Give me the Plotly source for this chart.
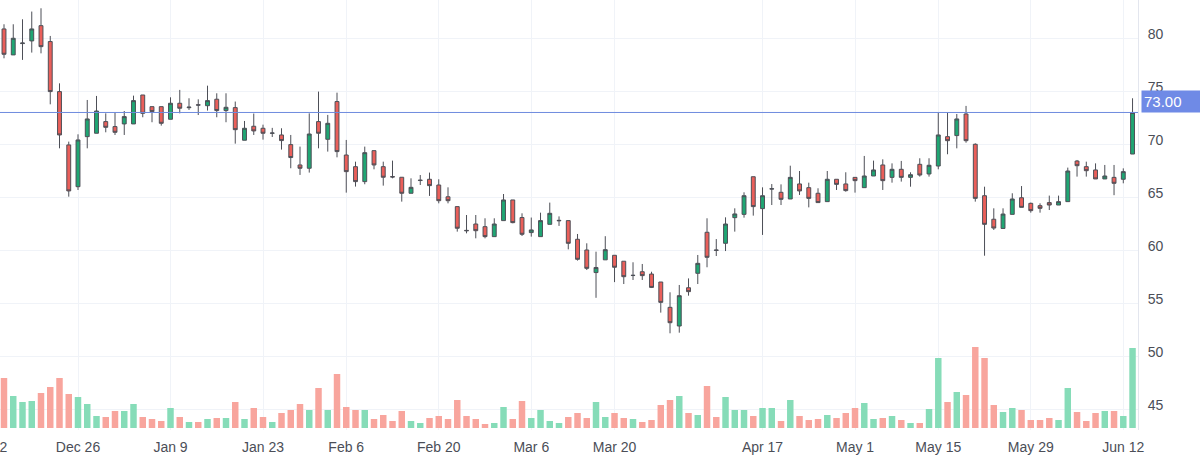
import pandas as pd
import plotly.graph_objects as go

# ---- categories (trading days) ----
closed_days = ["2023-01-24", "2023-03-10", "2023-04-03", "2023-04-04",
               "2023-04-05", "2023-04-07", "2023-05-05"]
dates = [d.strftime("%Y-%m-%d") for d in pd.bdate_range("2022-12-14", "2023-06-13")
         if d.strftime("%Y-%m-%d") not in closed_days]

# ---- OHLC values ----
opens = [80.88, 78.43, 79.50, 79.75, 81.19, 79.69, 74.97, 69.94, 66.00, 70.72,
         71.04, 72.14, 71.67, 71.92, 71.92, 74.65, 73.55, 73.55, 72.36, 73.87,
         73.45, 73.72, 73.64, 74.25, 73.18, 73.46, 70.38, 71.70, 71.51, 71.04,
         70.88, 69.97, 68.05, 67.74, 72.14, 70.47, 74.03, 68.99, 67.89, 66.48,
         69.40, 67.89, 66.95, 66.89, 65.38, 66.58, 66.70, 66.16, 65.05, 64.12,
         61.88, 62.48, 62.23, 61.29, 62.80, 64.75, 63.09, 61.67, 61.29, 62.45,
         62.78, 62.80, 61.04, 60.03, 57.90, 59.10, 59.53, 58.97, 57.62, 57.98,
         57.76, 57.01, 54.62, 52.86, 56.47, 57.83, 61.70, 60.03, 60.66, 63.08,
         63.39, 66.94, 63.93, 65.78, 65.47, 64.84, 66.26, 65.91, 65.38, 64.59,
         66.70, 66.26, 66.88, 65.91, 67.01, 68.05, 66.88, 67.64, 66.88, 68.11,
         67.20, 67.95, 70.72, 70.82, 72.86, 70.00, 65.15, 62.93, 62.06, 63.39,
         64.96, 64.43, 64.21, 64.50, 64.27, 64.59, 68.42, 67.89, 67.58, 66.73,
         66.88, 66.70, 69.08]
highs = [81.32, 81.32, 81.79, 82.52, 82.83, 80.22, 75.75, 70.25, 70.94, 74.18,
         74.56, 72.92, 73.02, 73.14, 74.59, 74.65, 73.55, 73.55, 74.43, 75.13,
         74.34, 74.24, 75.53, 74.81, 74.81, 74.03, 72.20, 72.90, 71.85, 71.55,
         71.51, 70.88, 69.78, 72.92, 74.97, 72.77, 74.87, 70.41, 68.36, 69.78,
         69.40, 68.36, 68.46, 66.89, 66.79, 67.10, 67.33, 66.70, 65.94, 64.12,
         63.33, 63.33, 63.02, 63.02, 65.31, 64.75, 63.49, 63.09, 63.55, 64.50,
         63.20, 62.80, 61.54, 60.66, 59.87, 61.33, 59.53, 58.97, 58.87, 58.71,
         57.98, 57.01, 56.04, 56.73, 57.35, 59.56, 63.02, 61.06, 63.11, 63.96,
         65.47, 66.94, 65.94, 66.25, 66.22, 67.98, 67.48, 66.38, 65.85, 67.48,
         66.70, 67.36, 66.88, 68.90, 68.46, 68.58, 68.20, 68.43, 67.36, 68.68,
         68.68, 73.02, 73.02, 72.86, 73.62, 70.09, 66.00, 63.96, 63.96, 65.38,
         66.06, 64.50, 64.43, 65.16, 65.16, 67.80, 68.52, 68.36, 68.20, 68.05,
         68.05, 67.73, 74.34]
lows = [78.11, 78.43, 77.96, 78.65, 78.58, 73.77, 69.62, 65.06, 65.69, 69.62,
        71.04, 71.13, 70.88, 70.88, 71.92, 72.55, 72.08, 71.76, 72.36, 72.92,
        73.24, 72.76, 73.18, 72.55, 72.08, 70.06, 70.38, 70.88, 70.44, 70.69,
        69.50, 67.74, 67.11, 67.33, 69.62, 69.31, 68.77, 65.44, 66.01, 66.23,
        67.64, 66.10, 66.79, 64.59, 65.38, 66.16, 65.13, 64.43, 64.43, 61.76,
        61.60, 61.13, 61.13, 61.29, 62.80, 62.55, 61.35, 61.29, 61.29, 62.45,
        62.30, 60.09, 59.03, 58.14, 55.52, 59.10, 57.00, 56.82, 57.20, 57.20,
        56.44, 54.12, 52.17, 52.23, 55.72, 56.82, 58.40, 59.46, 59.93, 61.76,
        63.08, 63.27, 61.45, 64.27, 64.27, 64.84, 65.22, 64.05, 64.50, 64.59,
        65.69, 65.53, 65.44, 65.91, 67.01, 65.69, 66.38, 66.48, 66.00, 66.95,
        66.95, 67.64, 69.06, 69.62, 70.15, 64.59, 59.49, 61.92, 62.06, 63.39,
        64.05, 63.55, 63.55, 63.80, 64.27, 64.59, 66.95, 66.95, 66.73, 66.73,
        65.20, 66.32, 69.08]
closes = [78.49, 80.00, 79.55, 80.88, 79.21, 74.97, 70.88, 65.60, 70.41, 72.39,
          73.14, 71.60, 71.13, 72.61, 74.12, 72.92, 73.08, 71.98, 73.87, 73.40,
          73.50, 73.70, 74.12, 73.18, 73.49, 71.38, 71.51, 71.26, 71.04, 71.06,
          70.35, 68.75, 67.74, 70.97, 71.04, 71.98, 69.31, 67.42, 66.48, 69.21,
          68.05, 66.89, 66.92, 65.38, 65.94, 66.61, 66.10, 64.68, 64.68, 62.08,
          61.85, 61.85, 61.29, 62.48, 64.75, 62.61, 61.51, 61.92, 62.80, 63.49,
          62.82, 60.66, 59.15, 58.30, 58.38, 60.06, 58.40, 57.51, 57.64, 57.61,
          56.50, 55.09, 53.17, 55.72, 56.10, 58.77, 59.34, 60.00, 62.48, 63.43,
          65.15, 64.12, 65.15, 65.80, 64.81, 66.88, 65.60, 64.90, 64.50, 66.70,
          66.22, 65.63, 66.57, 67.01, 67.58, 66.57, 67.64, 66.88, 67.13, 67.10,
          68.02, 70.88, 70.34, 72.39, 70.34, 64.90, 62.45, 62.10, 63.42, 64.84,
          64.05, 63.74, 63.96, 64.27, 64.59, 67.48, 67.98, 67.51, 66.73, 67.01,
          66.32, 67.42, 73.00]
volumes = [50, 32, 26, 27, 35, 41, 50, 34, 31, 24,
           12, 11, 17, 17, 24, 11, 9, 7, 20, 11,
           6, 6, 9, 10, 10, 26, 9, 20, 11, 6,
           15, 18, 24, 18, 40, 18, 54, 21, 18, 18,
           9, 13, 7, 17, 7, 5, 10, 12, 9, 28,
           12, 9, 4, 5, 21, 9, 27, 10, 18, 7,
           5, 11, 15, 10, 26, 11, 15, 10, 9, 6,
           8, 23, 28, 32, 15, 13, 42, 11, 31, 18,
           18, 12, 20, 20, 7, 28, 12, 8, 9, 13,
           10, 15, 20, 25, 9, 10, 12, 8, 5, 5,
           19, 70, 26, 36, 33, 81, 70, 23, 16, 20,
           18, 8, 8, 10, 8, 40, 16, 7, 15, 17,
           17, 12, 80]

price_ticks = [45, 50, 55, 60, 65, 70, 75, 80]
tick_dates = ["2022-12-26", "2023-01-09", "2023-01-23", "2023-02-06", "2023-02-20",
              "2023-03-06", "2023-03-20", "2023-04-17", "2023-05-01", "2023-05-15",
              "2023-05-29", "2023-06-12"]
tick_labels = ["Dec 26", "Jan 9", "Jan 23", "Feb 6", "Feb 20", "Mar 6", "Mar 20",
               "Apr 17", "May 1", "May 15", "May 29", "Jun 12"]
prev_tick_label = "Dec 12"      # tick just left of the visible range (cut off)
prev_tick_index = -2            # its bar index position relative to first bar
last_price = 73.00

assert len(dates) == len(opens) == len(highs) == len(lows) == len(closes) == len(volumes)

UP = "#1fa673"
DOWN = "#ea5f5a"
UP_VOL = "#86dcb8"
DOWN_VOL = "#f8a59d"
WICK = "#4d4f57"
GRID = "#f0f3f8"
TEXT = "#4b4e57"
FONT = "Liberation Sans, Arial, sans-serif"

x_range = [-0.432, len(dates) - 0.41]
vol_colors = [UP_VOL if c >= o else DOWN_VOL for o, c in zip(opens, closes)]

fig = go.Figure()
fig.add_trace(go.Bar(x=dates, y=volumes, marker=dict(color=vol_colors, line_width=0),
                     yaxis="y2", hoverinfo="skip", showlegend=False))
fig.add_trace(go.Candlestick(
    x=dates, open=opens, high=highs, low=lows, close=closes,
    increasing=dict(fillcolor=UP, line=dict(color=WICK, width=1)),
    decreasing=dict(fillcolor=DOWN, line=dict(color=WICK, width=1)),
    whiskerwidth=0, showlegend=False))

fig.add_hline(y=last_price, line=dict(color="#6f8bdf", width=1))
fig.add_annotation(xref="paper", x=1, yref="y", y=last_price, xanchor="left",
                   yanchor="bottom", xshift=3, yshift=-1, text=f"{last_price:.2f}",
                   showarrow=False, bgcolor="#6f8ae6", borderpad=2, width=56,
                   align="left", font=dict(color="white", size=15, family=FONT))
# partially visible label at left edge (previous tick, Dec 12)
prev_paper_x = (prev_tick_index - x_range[0]) / (x_range[1] - x_range[0])
fig.add_annotation(xref="paper", x=prev_paper_x, xanchor="center", yref="paper", y=0,
                   yanchor="top", yshift=-7, text=prev_tick_label, showarrow=False,
                   font=dict(color=TEXT, size=14, family=FONT))

fig.update_layout(
    width=1200, height=462,
    margin=dict(l=0, r=62, t=0, b=32),
    paper_bgcolor="white", plot_bgcolor="white",
    font=dict(family=FONT, size=14, color=TEXT),
    bargap=0.3, boxgap=0.4,
    showlegend=False,
    xaxis=dict(type="category", range=x_range, tickvals=tick_dates,
               ticktext=tick_labels, showgrid=True, gridcolor=GRID, gridwidth=1,
               showline=False, ticks="", rangeslider=dict(visible=False),
               ticklabelstandoff=7,
               tickfont=dict(size=14, color=TEXT), fixedrange=True),
    yaxis=dict(side="right", range=[43.05, 83.61], tickvals=price_ticks,
               showgrid=True, gridcolor=GRID, gridwidth=1, zeroline=False,
               showline=True, linecolor="#e3e6ee", ticks="",
               ticklabelstandoff=6, ticklabelshift=-4,
               tickfont=dict(size=14, color=TEXT)),
    yaxis2=dict(overlaying="y", range=[-2, 428], visible=False),
)

fig.write_html("out.html")
